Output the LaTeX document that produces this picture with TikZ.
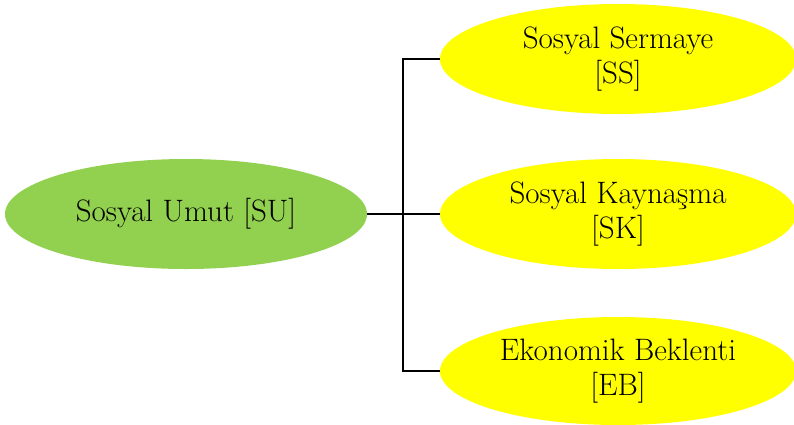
\documentclass[tikz,border=0pt]{standalone}
\usepackage{fontspec}
\usepackage{tikz}
\usepackage{xcolor}
\usetikzlibrary{shapes.geometric, calc}
\definecolor{gr}{HTML}{92D050}
\definecolor{ye}{HTML}{FFFF00}

\begin{document}
\begin{tikzpicture}[x=1pt, y=-1pt,
		blob/.style={ellipse, inner sep=0pt, align=center, font=\fontsize{31}{35}\selectfont},
		link/.style={line width=2pt, black}]
			\useasboundingbox (0,0) rectangle (794,424);

			% Main construct
			\node[blob, fill=gr, minimum width=362, minimum height=110] (su) at (186,214) {Sosyal Umut [SU]};

			% Sub dimensions
			\node[blob, fill=ye, minimum width=356, minimum height=110] (ss) at (618,59) {Sosyal Sermaye\\{[SS]}};
			\node[blob, fill=ye, minimum width=356, minimum height=110] (sk) at (618,214) {Sosyal Kayna\c{s}ma\\{[SK]}};
			\node[blob, fill=ye, minimum width=356, minimum height=108] (eb) at (618,371) {Ekonomik Beklenti\\{[EB]}};

			% Connectors
			\coordinate (split) at (403,214);
			\draw[link] (su.east) -- (split);
			\draw[link] (split) -- (sk.west);
			\draw[link] (ss.west) -| (split) |- (eb.west);
		\end{tikzpicture}
\end{document}
